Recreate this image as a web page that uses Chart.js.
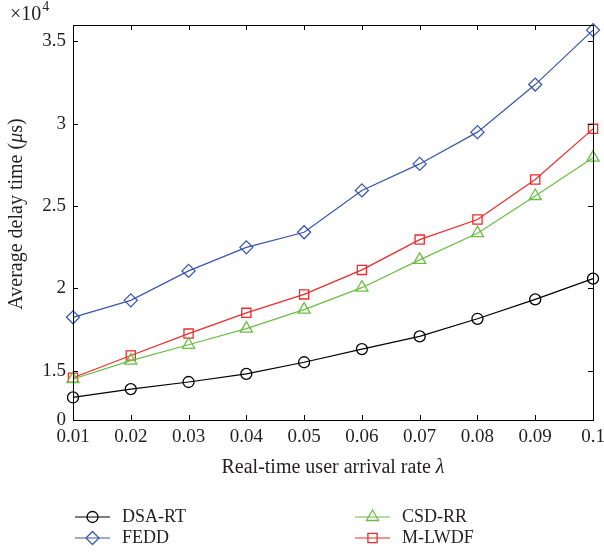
<!DOCTYPE html>
<html>
<head>
<meta charset="utf-8">
<script src="https://cdn.jsdelivr.net/npm/chart.js@4.4.1/dist/chart.umd.min.js"></script>
<style>
  html, body { margin: 0; padding: 0; background: #fff; }
  #wrap { width: 604px; height: 556px; }
</style>
</head>
<body>
<div id="wrap"><canvas id="myChart" width="604" height="556"></canvas></div>
<script>
// arrival rate lambda
const xValues = [0.01, 0.02, 0.03, 0.04, 0.05, 0.06, 0.07, 0.08, 0.09, 0.1];
// average delay time in microseconds
const dsaRT = [13370, 13880, 14310, 14800, 15510, 16310, 17080, 18150, 19330, 20590];
const fedd  = [18240, 19270, 21060, 22490, 23410, 25950, 27560, 29490, 32380, 35690];
const csdRR = [14490, 15610, 16570, 17550, 18710, 20040, 21730, 23350, 25610, 27940];
const mLwdf = [14570, 15920, 17250, 18510, 19630, 21120, 22960, 24180, 26610, 29690];

const xTicks = [0.01, 0.02, 0.03, 0.04, 0.05, 0.06, 0.07, 0.08, 0.09, 0.1];
const yTicks = [12000, 15000, 20000, 25000, 30000, 35000];
const yTickLabels = ["0", "1.5", "2", "2.5", "3", "3.5"];

const FONT = "'Liberation Serif', 'DejaVu Serif', serif";
const TXT = "#231f20";

function pts(arr) {
  return xValues.map((x, i) => ({ x: x, y: arr[i] }));
}

function series(label, arr, color, shape, r) {
  return {
    label: label,
    data: pts(arr),
    borderColor: color,
    backgroundColor: "rgba(0,0,0,0)",
    borderWidth: 1.2,
    pointStyle: shape,
    pointRadius: r,
    pointBorderWidth: 1.3,
    pointBorderColor: color,
    pointBackgroundColor: "rgba(0,0,0,0)",
    clip: false,
    tension: 0
  };
}

const datasets = [
  series("DSA-RT", dsaRT, "#000000", "circle", 5.5),
  series("FEDD", fedd, "#3a56ad", "rectRot", 6.5),
  series("CSD-RR", csdRR, "#6abd45", "triangle", 7),
  series("M-LWDF", mLwdf, "#ee2a2a", "rect", 6.5)
];

// legend placement: [dataset index, column, row]
const legendLayout = [[0, 0, 0], [1, 0, 1], [2, 1, 0], [3, 1, 1]];

const matlabAxes = {
  id: "matlabAxes",
  afterDraw(chart) {
    const ctx = chart.ctx;
    const a = chart.chartArea;
    const xs = chart.scales.x, ys = chart.scales.y;
    ctx.save();
    ctx.strokeStyle = "#000";
    ctx.lineWidth = 1;
    ctx.strokeRect(Math.round(a.left) + 0.5, Math.round(a.top) + 0.5,
      Math.round(a.right - a.left), Math.round(a.bottom - a.top));
    const tl = 5;
    ctx.beginPath();
    xTicks.forEach(v => {
      const px = Math.round(xs.getPixelForValue(v)) + 0.5;
      ctx.moveTo(px, a.bottom); ctx.lineTo(px, a.bottom - tl);
      ctx.moveTo(px, a.top); ctx.lineTo(px, a.top + tl);
    });
    yTicks.forEach(v => {
      const py = Math.round(ys.getPixelForValue(v)) + 0.5;
      ctx.moveTo(a.left, py); ctx.lineTo(a.left + tl, py);
      ctx.moveTo(a.right, py); ctx.lineTo(a.right - tl, py);
    });
    ctx.stroke();

    // exponent
    ctx.fillStyle = TXT;
    ctx.textBaseline = "alphabetic";
    ctx.textAlign = "left";
    ctx.font = "20px " + FONT;
    ctx.fillText("\u00d710", 10, 20);
    const w10 = ctx.measureText("\u00d710").width;
    ctx.font = "14px " + FONT;
    ctx.fillText("4", 10 + w10 + 1, 11);

    // x title
    const xParts = [["Real-time user arrival rate ", ""], ["\u03bb", "italic "]];
    drawParts(ctx, xParts, (a.left + a.right) / 2, 468, 0, 20);
    // y title
    const yParts = [["Average delay time (", ""], ["\u03bc", "italic "], ["s)", ""]];
    drawParts(ctx, yParts, 17, 214, -Math.PI / 2, 20);

    // legend
    const colX = [75, 355], rowY = [517, 538];
    legendLayout.forEach(([di, c, r]) => {
      const ds = chart.data.datasets[di];
      const x0 = colX[c], y0 = rowY[r];
      ctx.strokeStyle = ds.borderColor;
      ctx.fillStyle = "rgba(0,0,0,0)";
      ctx.lineWidth = ds.borderWidth;
      ctx.beginPath();
      ctx.moveTo(x0, y0); ctx.lineTo(x0 + 35, y0);
      ctx.stroke();
      ctx.lineWidth = ds.pointBorderWidth;
      Chart.helpers.drawPoint(ctx, {
        pointStyle: ds.pointStyle, radius: ds.pointRadius, borderWidth: ds.pointBorderWidth, rotation: 0
      }, x0 + 17.5, y0);
      ctx.fillStyle = TXT;
      ctx.font = "18px " + FONT;
      ctx.textAlign = "left";
      ctx.textBaseline = "middle";
      ctx.fillText(ds.label, x0 + 47, y0);
    });
    ctx.restore();
  }
};

function drawParts(ctx, parts, cx, cy, rot, size) {
  ctx.save();
  ctx.translate(cx, cy);
  ctx.rotate(rot);
  ctx.textBaseline = "middle";
  ctx.textAlign = "left";
  ctx.fillStyle = TXT;
  let total = 0;
  parts.forEach(p => { ctx.font = p[1] + size + "px " + FONT; total += ctx.measureText(p[0]).width; });
  let x = -total / 2;
  parts.forEach(p => {
    ctx.font = p[1] + size + "px " + FONT;
    ctx.fillText(p[0], x, 0);
    x += ctx.measureText(p[0]).width;
  });
  ctx.restore();
}

new Chart("myChart", {
  type: "line",
  data: { datasets: datasets },
  options: {
    responsive: false,
    animation: false,
    events: [],
    layout: { padding: { left: 0, top: 25, right: 11, bottom: 0 } },
    plugins: { legend: { display: false }, tooltip: { enabled: false } },
    scales: {
      x: {
        type: "linear",
        min: 0.01,
        max: 0.1,
        grid: { display: false, drawTicks: false },
        border: { display: false },
        afterBuildTicks: s => { s.ticks = xTicks.map(v => ({ value: v })); },
        afterFit: s => { s.height = 136; s.paddingLeft = 0; s.paddingRight = 0; },
        ticks: {
          color: TXT,
          font: { family: FONT, size: 19 },
          padding: 6,
          maxRotation: 0,
          autoSkip: false,
          callback: v => (Math.round(v * 100) / 100).toString()
        }
      },
      y: {
        min: 12000,
        max: 36000,
        grid: { display: false, drawTicks: false },
        border: { display: false },
        afterBuildTicks: s => { s.ticks = yTicks.map(v => ({ value: v })); },
        afterFit: s => { s.width = 73; s.paddingTop = 0; s.paddingBottom = 0; },
        ticks: {
          color: TXT,
          font: { family: FONT, size: 19 },
          padding: 7,
          autoSkip: false,
          callback: v => yTickLabels[yTicks.indexOf(v)]
        }
      }
    }
  },
  plugins: [matlabAxes]
});
</script>
</body>
</html>
